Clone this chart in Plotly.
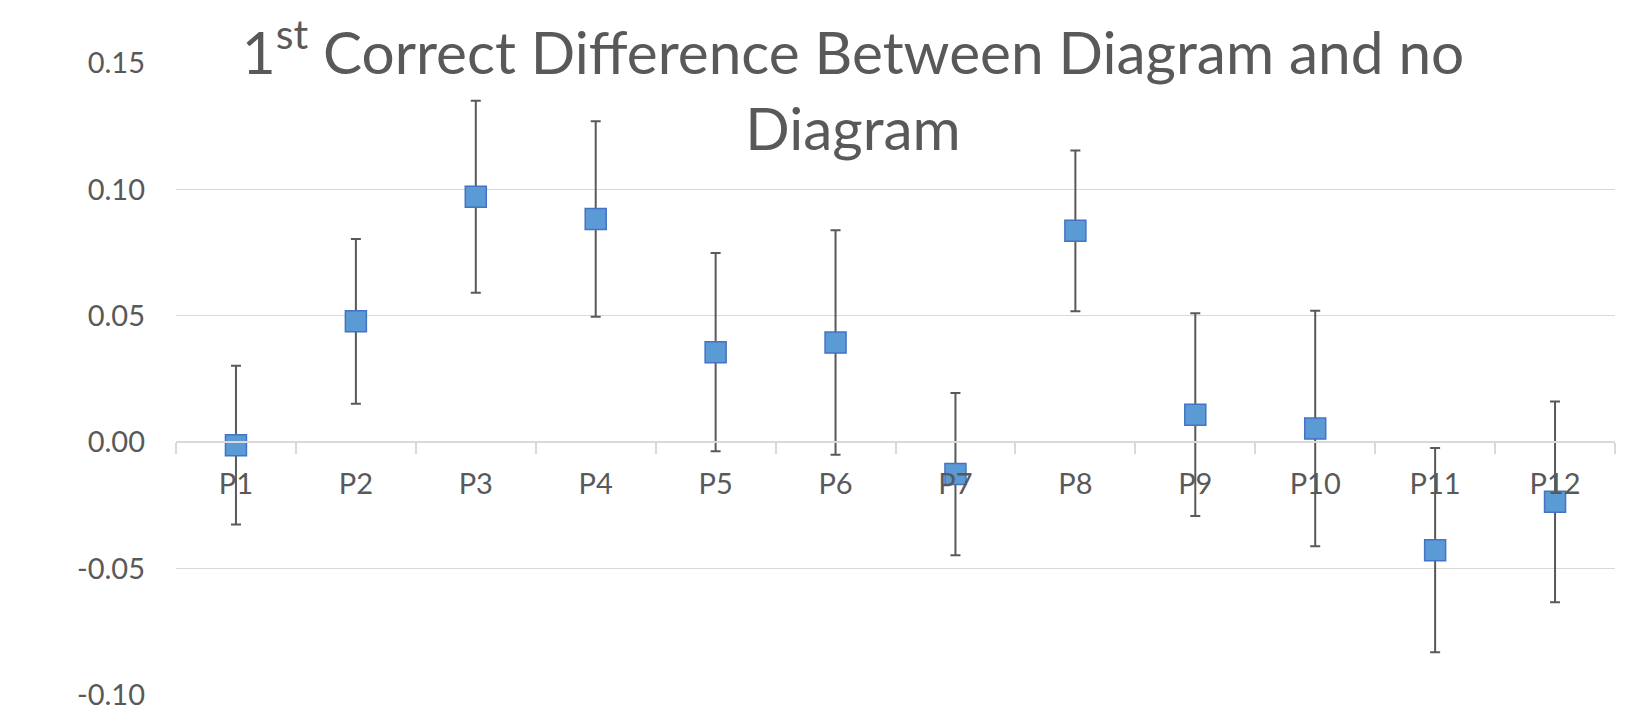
import plotly.graph_objects as go

categories = ["P1", "P2", "P3", "P4", "P5", "P6", "P7", "P8", "P9", "P10", "P11", "P12"]
values = [-0.0012, 0.0478, 0.0971, 0.0883, 0.0356, 0.0394, -0.0126, 0.0836, 0.0109, 0.0054, -0.0427, -0.0236]
errors = [0.0314, 0.0326, 0.0380, 0.0387, 0.0392, 0.0444, 0.0321, 0.0318, 0.0401, 0.0466, 0.0404, 0.0397]
y_tickvals = [-0.10, -0.05, 0.00, 0.05, 0.10, 0.15]
y_ticktext = ["-0.10", "-0.05", "0.00", "0.05", "0.10", "0.15"]
title_text = "1<sup>st</sup> Correct Difference Between Diagram and no<br>Diagram"

FONT = "Lato"
GRAY = "#595959"
GRID = "#D9D9D9"

# page body has an 8px default margin; size the figure so it fills the 1650x719 window
W, H = 1642, 711

fig = go.Figure()
fig.add_trace(go.Scatter(
    x=categories, y=values, mode="markers",
    marker=dict(symbol="square", size=21, color="#5B9BD5",
                line=dict(color="#4472C4", width=1.5)),
    error_y=dict(type="data", array=errors, visible=True,
                 color=GRAY, thickness=2, width=5),
    showlegend=False,
))

y_min, y_max = -0.10, 0.15
fig.update_layout(
    width=W, height=H,
    margin=dict(l=168, r=35, t=55, b=24, autoexpand=False),
    paper_bgcolor="white", plot_bgcolor="white",
    title=dict(text=title_text, x=845/W, xanchor="center", xref="container",
               y=1 - 66/H, yanchor="top", yref="container",
               font=dict(family=FONT, size=58.5, color=GRAY)),
    xaxis=dict(type="category", range=[-0.5, 11.5], anchor="free",
               position=(0 - y_min) / (y_max - y_min), automargin=False,
               showgrid=False, showline=True, linecolor=GRID, linewidth=1.5,
               ticks="outside", tickson="boundaries", ticklen=11, tickwidth=1.5,
               tickcolor=GRID, ticklabelstandoff=16,
               tickfont=dict(family=FONT, size=29, color=GRAY),
               zeroline=False),
    yaxis=dict(range=[y_min, y_max], tickvals=y_tickvals, ticktext=y_ticktext,
               showgrid=True, gridcolor=GRID, gridwidth=1.3, zeroline=False,
               showline=False, ticks="", ticklabelstandoff=30, automargin=False,
               tickfont=dict(family=FONT, size=29, color=GRAY)),
)

fig.write_html("out.html")
